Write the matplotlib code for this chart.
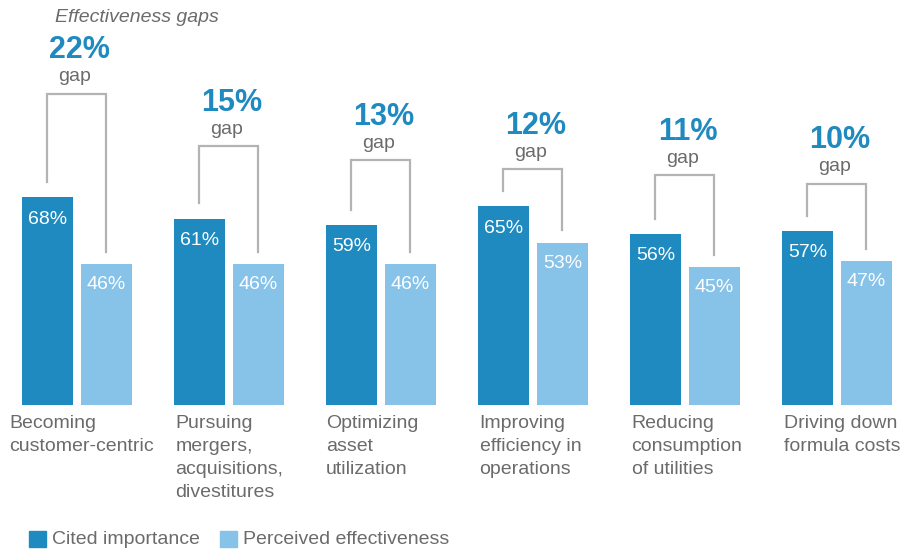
import matplotlib
matplotlib.use("Agg")
import matplotlib.pyplot as plt
from matplotlib.patches import Rectangle

plt.rcParams['font.family'] = ['Liberation Sans', 'DejaVu Sans']

# data
categories = ["Becoming\ncustomer-centric",
              "Pursuing\nmergers,\nacquisitions,\ndivestitures",
              "Optimizing\nasset\nutilization",
              "Improving\nefficiency in\noperations",
              "Reducing\nconsumption\nof utilities",
              "Driving down\nformula costs"]
cited = [68, 61, 59, 65, 56, 57]
perceived = [46, 46, 46, 53, 45, 47]
series_names = ["Cited importance", "Perceived effectiveness"]

# layout
bracket_top = [101.9, 84.7, 80.2, 77.2, 75.2, 72.5]
label_dx = [-0.085, 0.01, 0.0, 0.01, 0.01, 0.01]

dark = '#1f8ac0'
light = '#87c2e9'
grey = '#6b6b6b'
line_grey = '#b3b3b3'

W, H = 903, 549
fig = plt.figure(figsize=(W / 100, H / 100), dpi=100)
ax = fig.add_axes([0, 0, 1, 1])
ax.set_xlim(-77 / 152, (W - 77) / 152)
ax.set_ylim(-144.3 / 3.05, 404.7 / 3.05)
ax.axis('off')

bw = 51 / 152
off = 59 / 152 / 2

for i, (c, p) in enumerate(zip(cited, perceived)):
    xd, xl = i - off, i + off
    ax.bar(xd, c, width=bw, color=dark)
    ax.bar(xl, p, width=bw, color=light)
    ax.text(xd, c - 7.2, f"{c}%", color='white', fontsize=14,
            ha='center', va='center')
    ax.text(xl, p - 6.6, f"{p}%", color='white', fontsize=14,
            ha='center', va='center')

    # gap bracket
    top = bracket_top[i]
    ax.plot([xd, xd, xl, xl], [c + 5.0, top, top, p + 4.2],
            color=line_grey, lw=1.6, solid_joinstyle='miter')
    ax.annotate("gap", (i, top), xytext=(-1.5, 9), textcoords='offset points',
                ha='center', va='baseline', fontsize=14, color=grey)
    ax.annotate(f"{c - p}%", (i, top), xytext=(2, 25.5), textcoords='offset points',
                ha='center', va='baseline', fontsize=22, fontweight='bold',
                color=dark)

    # category label
    ax.text(i - off - bw / 2 + label_dx[i], -3.4, categories[i],
            ha='left', va='top', fontsize=14, color=grey, linespacing=1.45)

# title
fig.text(55 / W, 1 - 22 / H, "Effectiveness gaps", fontsize=14,
         style='italic', color=grey, ha='left', va='baseline')

# legend
for (x0, name, col) in [(29, series_names[0], dark), (220, series_names[1], light)]:
    fig.patches.append(Rectangle((x0 / W, 1 - 547 / H), 17 / W, 16 / H,
                                 transform=fig.transFigure, color=col))
    fig.text((x0 + 23) / W, 1 - 539 / H, name, fontsize=14, color=grey,
             ha='left', va='center')

fig.savefig('out.png', dpi=100, facecolor='white')
